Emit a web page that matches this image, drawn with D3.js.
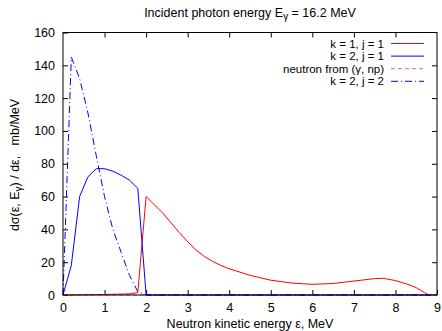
<!DOCTYPE html>
<html>
<head>
<meta charset="utf-8">
<script src="https://cdn.jsdelivr.net/npm/d3@7"></script>
<style>
  body { margin: 0; background: #fff; }
  svg { font-family: "Liberation Sans", Arial, sans-serif; }
  .tick text { font-size: 12.5px; fill: #000; }
</style>
</head>
<body>
<svg id="chart" width="442" height="331"></svg>
<script>
// k = 1, j = 1 (red)
const redX = [0, 1.0, 1.6, 1.8, 2.0, 2.2, 2.4, 2.6, 2.8, 3.0, 3.2, 3.4, 3.6, 3.8, 4.0, 4.5, 5.0, 5.5, 6.0, 6.5, 7.0, 7.5, 7.7, 8.0, 8.3, 8.5, 8.7, 8.8];
const redY = [0, 0.3, 0.7, 1.5, 60, 55, 50, 44, 38, 32.5, 27.5, 23.5, 20.5, 18, 16, 12, 9, 7.3, 6.5, 7, 8.5, 10, 10.2, 8.8, 6.5, 4.5, 1.5, 0];

// k = 2, j = 1 (blue solid)
const blueX = [0, 0.2, 0.4, 0.6, 0.8, 1.0, 1.2, 1.4, 1.6, 1.8, 2.0, 9.0];
const blueY = [0, 18, 60, 72, 77, 77, 75.5, 73, 70, 65, 0, 0];

// neutron from (gamma, np) (dashed)
const npX = [0, 9.0];
const npY = [0, 0];

// k = 2, j = 2 (blue dash-dot)
const ddX = [0, 0.2, 0.4, 0.6, 0.8, 1.0, 1.2, 1.4, 1.6, 1.8, 2.0, 9.0];
const ddY = [0, 145, 132, 111, 85, 60, 40, 26, 12, 2, 0, 0];

const xTicks = [0, 1, 2, 3, 4, 5, 6, 7, 8, 9];
const yTicks = [0, 20, 40, 60, 80, 100, 120, 140, 160];

const svg = d3.select("#chart");
const margin = { top: 32.5, right: 5, bottom: 36, left: 63 };
const W = 442, H = 331;
const fs = 12.5;

const x = d3.scaleLinear().domain([0, 9]).range([margin.left, W - margin.right]);
const y = d3.scaleLinear().domain([0, 160]).range([H - margin.bottom, margin.top]);

// axes with inward ticks, mirrored on top/right
svg.append("g")
    .attr("transform", `translate(0,${y(0)})`)
    .call(d3.axisBottom(x).tickValues(xTicks).tickSize(-5).tickPadding(8).tickSizeOuter(0))
    .call(g => g.select(".domain").remove());
svg.append("g")
    .attr("transform", `translate(0,${y(160)})`)
    .call(d3.axisTop(x).tickValues(xTicks.slice(1, -1)).tickSize(-5).tickFormat("").tickSizeOuter(0))
    .call(g => g.select(".domain").remove());
svg.append("g")
    .attr("transform", `translate(${x(0)},0)`)
    .call(d3.axisLeft(y).tickValues(yTicks).tickSize(-5).tickPadding(8).tickSizeOuter(0))
    .call(g => g.select(".domain").remove());
svg.append("g")
    .attr("transform", `translate(${x(9)},0)`)
    .call(d3.axisRight(y).tickValues(yTicks.slice(1, -1)).tickSize(-5).tickFormat("").tickSizeOuter(0))
    .call(g => g.select(".domain").remove());

const line = d3.line().x(d => x(d[0])).y(d => y(d[1]));
const pairs = (xs, ys) => xs.map((v, i) => [v, ys[i]]);

const series = [
    { name: "neutron from (γ, np)", pts: pairs(npX, npY), color: "#c86cc8", dash: "4,3" },
    { name: "k = 2, j = 2", pts: pairs(ddX, ddY), color: "#0000ff", dash: "7,3,1,3" },
    { name: "k = 1, j = 1", pts: pairs(redX, redY), color: "#ff0000", dash: null },
    { name: "k = 2, j = 1", pts: pairs(blueX, blueY), color: "#0000ff", dash: null }
];

svg.append("g").selectAll("path")
    .data(series)
    .join("path")
    .attr("d", d => line(d.pts))
    .attr("fill", "none")
    .attr("stroke", d => d.color)
    .attr("stroke-width", 1)
    .attr("stroke-dasharray", d => d.dash);

// frame
svg.append("rect")
    .attr("x", x(0)).attr("y", y(160))
    .attr("width", x(9) - x(0)).attr("height", y(0) - y(160))
    .attr("fill", "none").attr("stroke", "#000").attr("stroke-width", 1);

// legend
const legendOrder = ["k = 1, j = 1", "k = 2, j = 1", "neutron from (γ, np)", "k = 2, j = 2"];
const leg = svg.append("g");
legendOrder.forEach((name, i) => {
    const s = series.find(d => d.name === name);
    const ly = 43.5 + i * 12.6;
    leg.append("text")
        .attr("x", 384).attr("y", ly).attr("dy", "0.35em")
        .attr("text-anchor", "end").attr("font-size", 11.5)
        .text(name);
    leg.append("line")
        .attr("x1", 391).attr("x2", 424).attr("y1", ly).attr("y2", ly)
        .attr("stroke", s.color).attr("stroke-width", 1)
        .attr("stroke-dasharray", s.dash);
});

// title
const title = svg.append("text")
    .attr("x", 250).attr("y", 17)
    .attr("text-anchor", "middle").attr("font-size", fs);
title.append("tspan").text("Incident photon energy E");
title.append("tspan").attr("baseline-shift", "-25%").attr("font-size", 10).text("γ");
title.append("tspan").text(" = 16.2 MeV");

// x label
svg.append("text")
    .attr("x", 250).attr("y", 328)
    .attr("text-anchor", "middle").attr("font-size", fs)
    .text("Neutron kinetic energy ε, MeV");

// y label
const yl = svg.append("text")
    .attr("transform", "translate(19,165) rotate(-90)")
    .attr("text-anchor", "middle").attr("font-size", fs)
    .attr("xml:space", "preserve");
yl.append("tspan").text("dσ(ε, E");
yl.append("tspan").attr("baseline-shift", "-25%").attr("font-size", 10).text("γ");
yl.append("tspan").text(") / dε,   mb/MeV");
</script>
</body>
</html>
